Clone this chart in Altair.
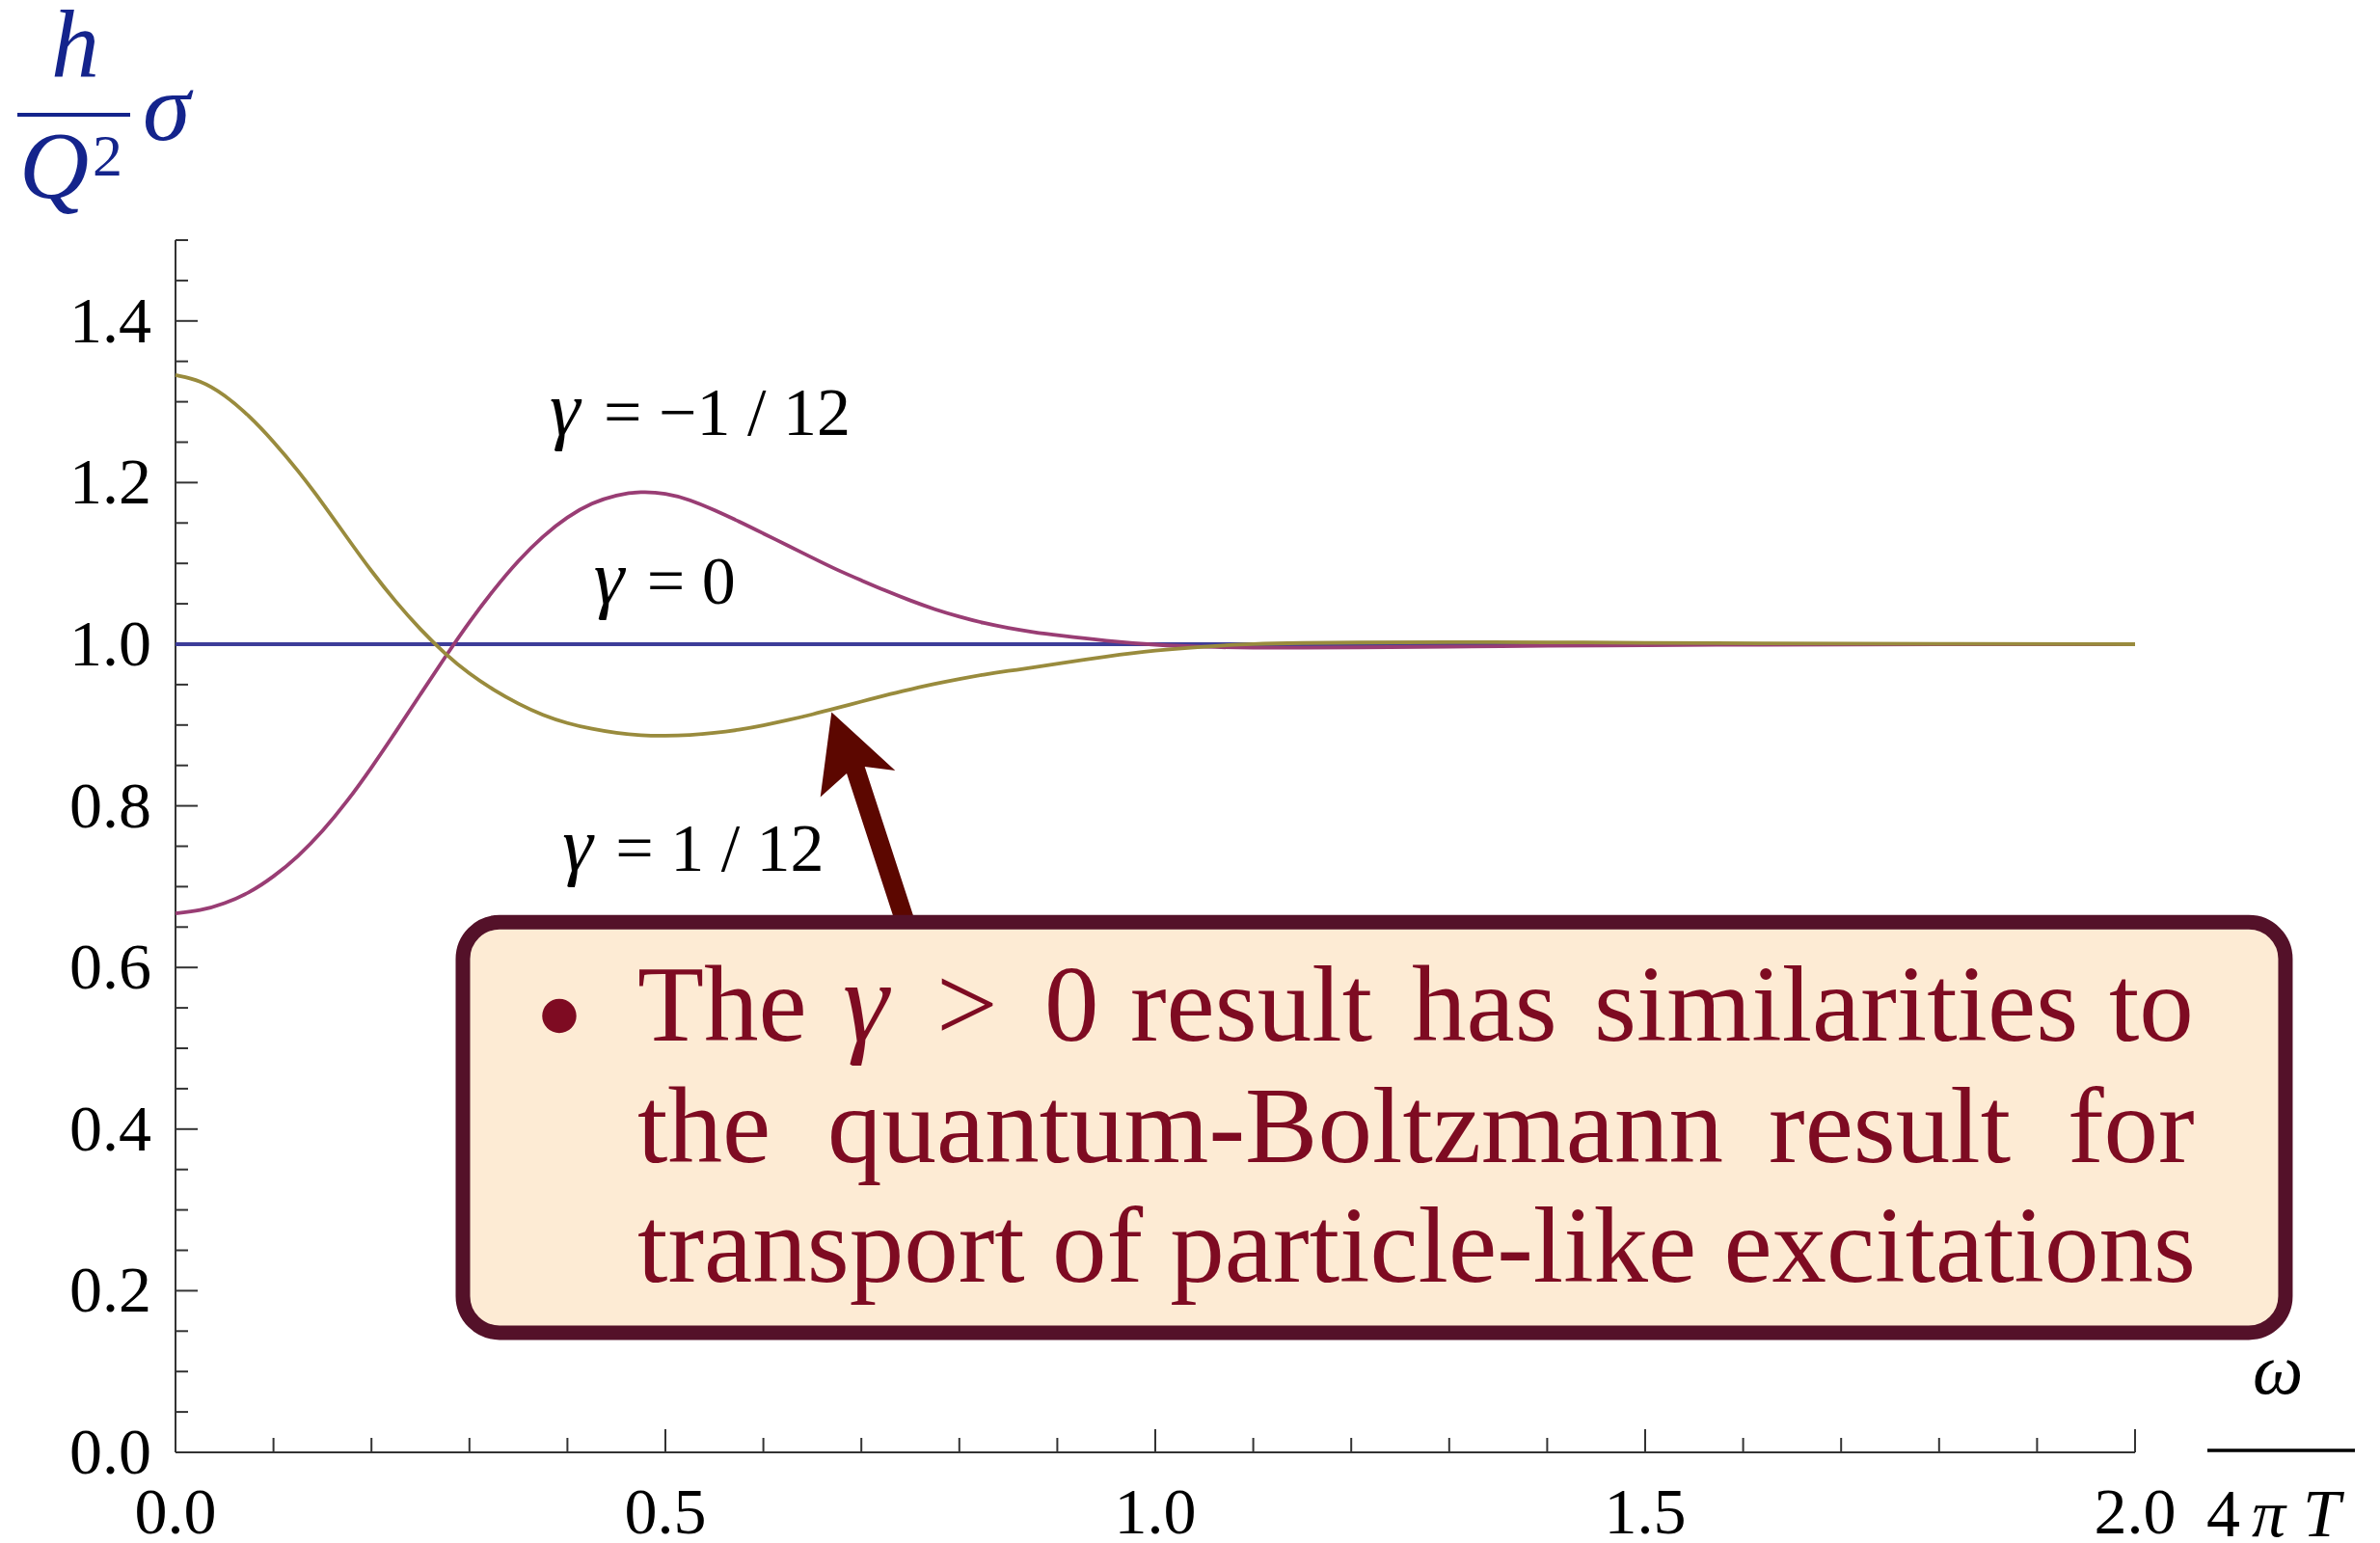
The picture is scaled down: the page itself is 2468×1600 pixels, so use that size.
import altair as alt
import pandas as pd

# ---- data -------------------------------------------------------------
# frequency grid, omega / (4 pi T)
omega = [0.0, 0.025, 0.05, 0.075, 0.1, 0.125, 0.15, 0.175, 0.2, 0.225, 0.25,
         0.275, 0.3, 0.325, 0.35, 0.375, 0.4, 0.425, 0.45, 0.475, 0.5, 0.525,
         0.55, 0.575, 0.6, 0.625, 0.65, 0.675, 0.7, 0.725, 0.75, 0.775, 0.8,
         0.825, 0.85, 0.875, 0.9, 0.95, 1.0, 1.05, 1.1, 1.15, 1.2, 1.3, 1.4,
         1.5, 1.6, 1.8, 2.0]

# (h / Q^2) sigma for gamma = 1/12
sigma_pos = [1.333, 1.327, 1.309, 1.283, 1.251, 1.215, 1.175, 1.132, 1.090, 1.052,
             1.018, 0.988, 0.963, 0.943, 0.926, 0.912, 0.902, 0.895, 0.890, 0.887,
             0.8865, 0.8875, 0.890, 0.894, 0.8995, 0.906, 0.913, 0.921, 0.929, 0.937,
             0.944, 0.951, 0.957, 0.9625, 0.967, 0.971, 0.976, 0.985, 0.9925, 0.9972,
             1.0006, 1.0016, 1.0021, 1.0026, 1.0024, 1.0017, 1.001, 1.0004, 1.0]

# (h / Q^2) sigma for gamma = -1/12
sigma_neg = [0.667, 0.670, 0.679, 0.692, 0.712, 0.737, 0.768, 0.805, 0.847, 0.892,
             0.938, 0.984, 1.028, 1.068, 1.104, 1.134, 1.158, 1.175, 1.185, 1.189,
             1.187, 1.179, 1.166, 1.152, 1.137, 1.122, 1.107, 1.092, 1.079, 1.066,
             1.054, 1.043, 1.034, 1.026, 1.020, 1.015, 1.011, 1.004, 0.999, 0.9965,
             0.9956, 0.9956, 0.996, 0.997, 0.998, 0.9988, 0.9994, 0.9999, 1.0]

# gamma = 0 is flat
omega_flat = [0.0, 2.0]
sigma_flat = [1.0, 1.0]

y_major = [0.0, 0.2, 0.4, 0.6, 0.8, 1.0, 1.2, 1.4]
y_labels = ["0.0", "0.2", "0.4", "0.6", "0.8", "1.0", "1.2", "1.4"]
y_minor = [0.05, 0.1, 0.15, 0.25, 0.3, 0.35, 0.45, 0.5, 0.55, 0.65, 0.7, 0.75,
           0.85, 0.9, 0.95, 1.05, 1.1, 1.15, 1.25, 1.3, 1.35, 1.45, 1.5]
x_major = [0.0, 0.5, 1.0, 1.5, 2.0]
x_labels = ["0.0", "0.5", "1.0", "1.5", "2.0"]
x_minor = [0.1, 0.2, 0.3, 0.4, 0.6, 0.7, 0.8, 0.9, 1.1, 1.2, 1.3, 1.4,
           1.6, 1.7, 1.8, 1.9]

# ---- style ------------------------------------------------------------
W, H = 2032, 1257
SERIF = "Liberation Serif"
AXIS = "#333333"
BLUE, PURPLE, OLIVE = "#3d3d99", "#993d74", "#998b3d"
LABEL_BLUE = "#14248c"
BOX_FILL, BOX_EDGE = "#fdebd4", "#541129"
BOX_TEXT, ARROW = "#7e0b22", "#5c0700"

xs = alt.Scale(domain=[0, 2], nice=False, zero=False)
ys = alt.Scale(domain=[0, 1.5], nice=False, zero=False)
one = pd.DataFrame({"k": [0]})


def ex(field="x"):
    return alt.X(f"{field}:Q", scale=xs, axis=None)


def ey(field="y"):
    return alt.Y(f"{field}:Q", scale=ys, axis=None)


def curve(xv, yv, color):
    df = pd.DataFrame({"x": xv, "y": yv})
    return alt.Chart(df).mark_line(
        color=color, strokeWidth=3.8, interpolate="basis"
    ).encode(x=ex(), y=ey(), order="x:Q")


def words(rows, size, color, style="normal", align="left"):
    df = pd.DataFrame(rows, columns=["x", "y", "t"])
    return alt.Chart(df).mark_text(
        font=SERIF, fontSize=size, color=color, fontStyle=style,
        align=align, baseline="alphabetic"
    ).encode(x=ex(), y=ey(), text="t:N")


def px_text(t, x, y, size, color, style="normal", align="left"):
    return alt.Chart(one).mark_text(
        text=t, font=SERIF, fontSize=size, color=color, fontStyle=style,
        align=align, baseline="alphabetic"
    ).encode(x=alt.value(x), y=alt.value(y))


# ---- axes -------------------------------------------------------------
y_axis = alt.Chart(one).mark_rule(color=AXIS, strokeWidth=2).encode(
    x=alt.value(0), y=alt.value(0), y2=alt.value(H))
x_axis = alt.Chart(one).mark_rule(color=AXIS, strokeWidth=2).encode(
    x=alt.value(0), x2=alt.value(W), y=alt.value(H))

y_major_ticks = alt.Chart(pd.DataFrame({"y": y_major})).mark_rule(
    color=AXIS, strokeWidth=2).encode(y=ey(), x=alt.value(0), x2=alt.value(23))
y_minor_ticks = alt.Chart(pd.DataFrame({"y": y_minor})).mark_rule(
    color=AXIS, strokeWidth=2).encode(y=ey(), x=alt.value(0), x2=alt.value(13))
x_major_ticks = alt.Chart(pd.DataFrame({"x": x_major})).mark_rule(
    color=AXIS, strokeWidth=2).encode(x=ex(), y=alt.value(H), y2=alt.value(H - 24))
x_minor_ticks = alt.Chart(pd.DataFrame({"x": x_minor})).mark_rule(
    color=AXIS, strokeWidth=2).encode(x=ex(), y=alt.value(H), y2=alt.value(H - 15))

y_tick_text = alt.Chart(pd.DataFrame({"y": y_major, "t": y_labels})).mark_text(
    font=SERIF, fontSize=68, color="black", align="right", baseline="middle", dy=2
).encode(y=ey(), x=alt.value(-25), text="t:N")
x_tick_text = alt.Chart(pd.DataFrame({"x": x_major, "t": x_labels})).mark_text(
    font=SERIF, fontSize=68, color="black", align="center", baseline="alphabetic"
).encode(x=ex(), y=alt.value(H + 84), text="t:N")

# y-axis title: h / Q^2 sigma
y_title = [
    px_text("h", -104, -170, 100, LABEL_BLUE, "italic", "center"),
    alt.Chart(one).mark_rule(color=LABEL_BLUE, strokeWidth=4).encode(
        x=alt.value(-164), x2=alt.value(-47), y=alt.value(-130)),
    px_text("Q", -162, -44, 100, LABEL_BLUE, "italic"),
    px_text("2", -86, -67, 62, LABEL_BLUE),
    px_text("σ", -34, -104, 100, LABEL_BLUE, "italic"),
]

# x-axis title: omega / 4 pi T
x_title = [
    px_text("ω", 2180, 1196, 74, "black", "italic", "center"),
    alt.Chart(one).mark_rule(color="black", strokeWidth=3.5).encode(
        x=alt.value(2107), x2=alt.value(2260), y=alt.value(1255)),
    px_text("4", 2106, 1344, 70, "black"),
    px_text("π", 2153, 1344, 70, "black", "italic"),
    px_text("T", 2206, 1344, 70, "black", "italic"),
]

# ---- curve labels -----------------------------------------------------
gamma_marks = words([(0.382, 1.259, "γ"), (0.427, 1.050, "γ"), (0.395, 0.720, "γ")],
                    80, "black", "italic")
gamma_values = words([(0.437, 1.259, "= −1 / 12"), (0.481, 1.050, "= 0"),
                      (0.449, 0.720, "= 1 / 12")], 70, "black")

# ---- callout ----------------------------------------------------------
arrow_path = ("M 0 0 L 66 60.7 L 34.4 56.7 L 85.7 214 L 64.7 214 "
              "L 15.7 63.7 L -11.6 88 Z")
arrow = alt.Chart(pd.DataFrame({"x": [0.6696], "y": [0.916]})).mark_point(
    shape=arrow_path, size=4, filled=True, fill=ARROW, strokeWidth=0, opacity=1
).encode(x=ex(), y=ey())

box = alt.Chart(pd.DataFrame({"x": [0.2933], "x2": [2.1535],
                              "y": [0.6559], "y2": [0.1481]})).mark_rect(
    fill=BOX_FILL, stroke=BOX_EDGE, strokeWidth=15, cornerRadius=38
).encode(x=ex(), x2="x2:Q", y=ey(), y2="y2:Q")

bullet = alt.Chart(pd.DataFrame({"x": [0.3917], "y": [0.540]})).mark_point(
    shape="circle", size=1257, filled=True, fill=BOX_TEXT, strokeWidth=0, opacity=1
).encode(x=ex(), y=ey())

L1, L2, L3 = 0.509, 0.3596, 0.2115
box_words = words([
    (0.4715, L1, "The"), (0.7766, L1, ">"), (0.8868, L1, "0"),
    (0.9744, L1, "result"), (1.2618, L1, "has"), (1.4478, L1, "similarities"),
    (1.9734, L1, "to"),
    (0.4715, L2, "the"), (0.6654, L2, "quantum-Boltzmann"), (1.626, L2, "result"),
    (1.931, L2, "for"),
    (0.4715, L3, "transport of particle-like excitations"),
], 113, BOX_TEXT)
box_gamma = words([(0.681, L1, "γ")], 120, BOX_TEXT, "italic")

layers = [
    y_minor_ticks, y_major_ticks, x_minor_ticks, x_major_ticks, y_axis, x_axis,
    y_tick_text, x_tick_text,
    curve(omega_flat, sigma_flat, BLUE),
    curve(omega, sigma_neg, PURPLE),
    curve(omega, sigma_pos, OLIVE),
    gamma_marks, gamma_values,
    arrow, box, bullet, box_words, box_gamma,
] + y_title + x_title

chart = alt.layer(*layers).properties(
    width=W, height=H,
    autosize=alt.AutoSizeParams(type="none"),
    padding={"left": 182, "top": 249, "right": 254, "bottom": 94},
    background="white",
).configure_view(stroke=None)

chart.save("out.html", embed_options={"renderer": "svg", "actions": False})
